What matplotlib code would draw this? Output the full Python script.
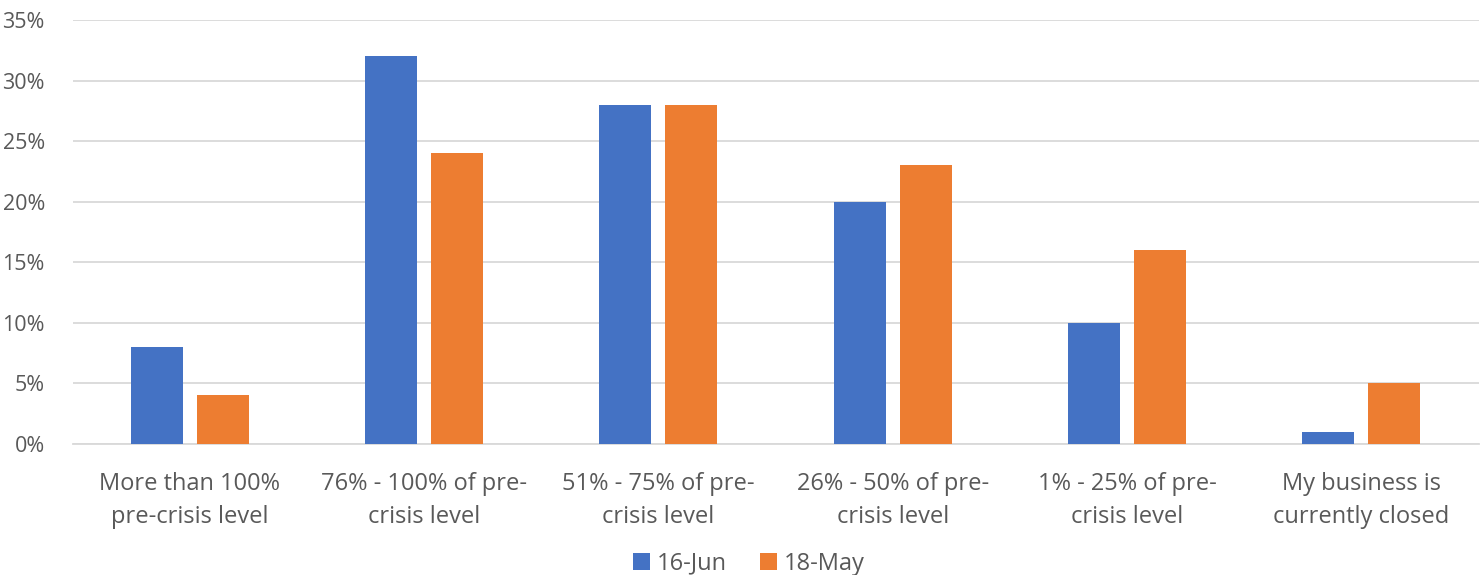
import matplotlib
matplotlib.use("Agg")
from matplotlib import pyplot as plt
from matplotlib.ticker import PercentFormatter
import numpy as np

categories = ["More than 100%\npre-crisis level", "76% - 100% of pre-\ncrisis level",
              "51% - 75% of pre-\ncrisis level", "26% - 50% of pre-\ncrisis level",
              "1% - 25% of pre-\ncrisis level", "My business is\ncurrently closed"]
jun16 = [8, 32, 28, 20, 10, 1]
may18 = [4, 24, 28, 23, 16, 5]
series_names = ["16-Jun", "18-May"]

plt.rcParams['font.family'] = ['Open Sans', 'DejaVu Sans']
txt = "#595959"

fig = plt.figure(figsize=(14.83, 5.75), dpi=100)
ax = fig.add_axes([0.049, 0.228, 0.948, 0.737])

x = np.arange(len(categories))
w = 0.222
ax.bar(x - 0.141, jun16, w, color="#4472C4", label=series_names[0], zorder=3)
ax.bar(x + 0.141, may18, w, color="#ED7D31", label=series_names[1], zorder=3)

ax.set_xlim(-0.5, len(categories) - 0.5)
ax.set_ylim(0, 35)
ax.set_yticks(range(0, 36, 5))
ax.yaxis.set_major_formatter(PercentFormatter(decimals=0))
ax.grid(axis="y", color="#D9D9D9", linewidth=1.3, zorder=0)
for s in ["top", "right", "left"]:
    ax.spines[s].set_visible(False)
ax.spines["bottom"].set_color("#D9D9D9")
ax.spines["bottom"].set_linewidth(1.3)
ax.tick_params(length=0, colors=txt)
ax.tick_params(axis="y", pad=20, labelsize=15.5)
ax.tick_params(axis="x", pad=20, labelsize=17)
ax.set_xticks(x)
ax.set_xticklabels(categories, linespacing=1.5)

fig.legend(loc="center", bbox_to_anchor=(0.505, 0.02), ncol=2, frameon=False,
           fontsize=17, labelcolor=txt, handlelength=0.7, handleheight=0.7,
           handletextpad=0.3, columnspacing=1.4)

fig.savefig("out.png", dpi=100)
